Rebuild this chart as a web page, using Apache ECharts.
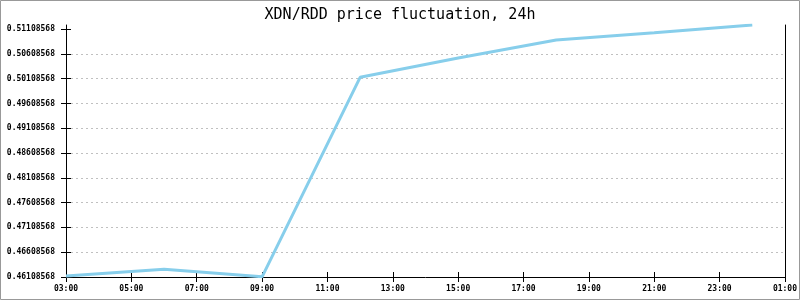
<!DOCTYPE html>
<html>
<head>
<meta charset="utf-8">
<script src="https://cdn.jsdelivr.net/npm/echarts@6/dist/echarts.min.js"></script>
<style>html,body{margin:0;padding:0;background:#fff}#c{width:800px;height:300px}</style>
</head>
<body>
<div id="c"></div>
<script>
// Data (hours of day; 24 = midnight next day)
const hours = [3, 6, 9, 12, 15, 18, 21, 24];
const prices = [0.46129, 0.46264, 0.46112, 0.50135, 0.50524, 0.50887, 0.51034, 0.51189];
const baseTick = 0.46108568;   // first y tick label value
const tickStep = 0.005;
const tickCount = 11;
const yTop = 0.51190;
const title = 'XDN/RDD price fluctuation, 24h';

const font = 'DejaVu Sans Mono';
const chart = echarts.init(document.getElementById('c'));
const seriesData = hours.map((h, i) => [h, prices[i] - baseTick]);
const tickVals = Array.from({length: tickCount}, (_, i) => +(i * tickStep).toFixed(6));
const fmtY = v => (baseTick + v).toFixed(8);
const fmtX = v => String(v % 24).padStart(2, '0') + ':00';

const xCommon = {type: 'value', min: 3, max: 25, interval: 2, position: 'bottom'};
const yCommon = {type: 'value', min: 0, max: yTop - baseTick, interval: tickStep};

chart.setOption({
  animation: false,
  title: {text: title, left: 'center', top: 3,
    textStyle: {fontFamily: font, fontSize: 15, fontWeight: 'normal', color: '#000'}},
  grid: {left: 66, right: 15, top: 25, bottom: 23},
  graphic: [{type: 'rect', shape: {x: 0.5, y: 0.5, width: 799, height: 299},
    style: {fill: 'none', stroke: '#999', lineWidth: 1}, silent: true}],
  xAxis: [
    Object.assign({}, xCommon, {
      axisLine: {lineStyle: {color: '#000', width: 1}},
      axisTick: {show: true, length: 5, lineStyle: {color: '#000'}},
      axisLabel: {formatter: fmtX, fontFamily: font, fontSize: 8, fontWeight: 'bold', color: '#000', margin: 8},
      splitLine: {show: false}
    }),
    Object.assign({}, xCommon, {
      axisLine: {show: false},
      axisTick: {show: true, inside: true, length: 5, lineStyle: {color: '#000'}},
      axisLabel: {show: false}, splitLine: {show: false}
    })
  ],
  yAxis: [
    Object.assign({}, yCommon, {
      position: 'left',
      axisLine: {show: true, lineStyle: {color: '#000', width: 1}},
      axisTick: {show: true, length: 5, customValues: tickVals, lineStyle: {color: '#000'}},
      axisLabel: {formatter: fmtY, fontFamily: font, fontSize: 8, fontWeight: 'bold', color: '#000', margin: 11, showMaxLabel: false},
      splitLine: {show: true, showMaxLine: false, lineStyle: {color: '#c0c0c0', type: [2, 3]}}
    }),
    Object.assign({}, yCommon, {
      position: 'left',
      axisLine: {show: false},
      axisTick: {show: true, inside: true, length: 5, customValues: tickVals, lineStyle: {color: '#000'}},
      axisLabel: {show: false}, splitLine: {show: false}
    }),
    Object.assign({}, yCommon, {
      position: 'right',
      axisLine: {show: true, lineStyle: {color: '#000', width: 1}},
      axisTick: {show: false}, axisLabel: {show: false}, splitLine: {show: false}
    })
  ],
  series: [{
    type: 'line', data: seriesData, xAxisIndex: 0, yAxisIndex: 0,
    showSymbol: false, lineStyle: {color: '#87ceeb', width: 3}
  }]
});
</script>
</body>
</html>
